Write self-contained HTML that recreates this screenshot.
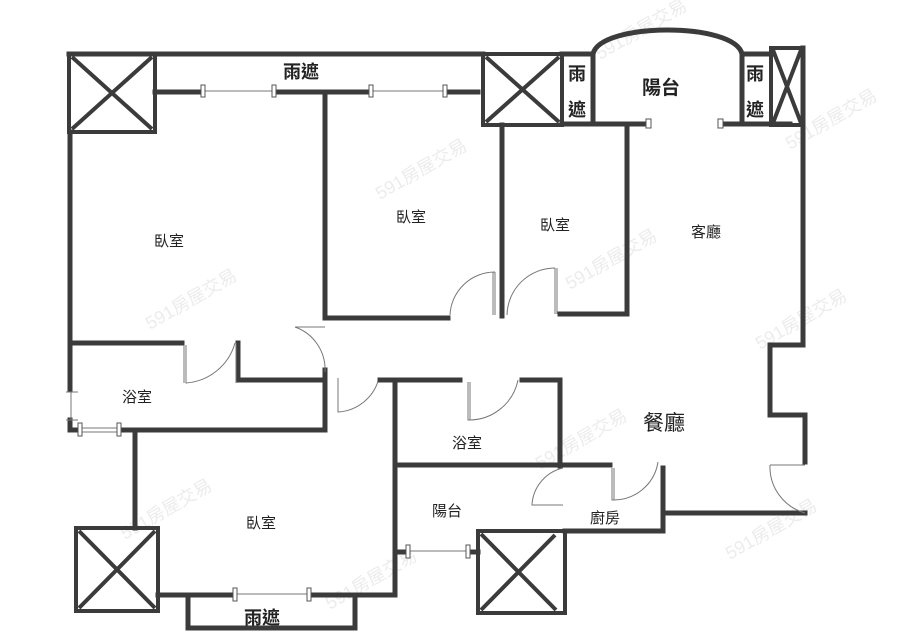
<!DOCTYPE html>
<html><head><meta charset="utf-8"><style>
html,body{margin:0;padding:0;background:#fff;width:900px;height:644px;overflow:hidden}
svg{display:block}
text{font-family:"Liberation Sans","Noto Sans CJK TC",sans-serif;fill:#222}
.w{stroke:#3b3b3b;stroke-width:5;fill:none;stroke-linecap:square}
.x{stroke:#3b3b3b;stroke-width:4;fill:none}
.t{stroke:#777;stroke-width:1;fill:none}
.wm text{fill:#ececec;font-size:18px;font-weight:normal}
</style></head><body>
<svg width="900" height="644" viewBox="0 0 900 644">
<g class="wm">
<text transform="translate(150,330) rotate(-30)">591房屋交易</text>
<text transform="translate(380,200) rotate(-30)">591房屋交易</text>
<text transform="translate(570,290) rotate(-30)">591房屋交易</text>
<text transform="translate(760,350) rotate(-30)">591房屋交易</text>
<text transform="translate(790,150) rotate(-30)">591房屋交易</text>
<text transform="translate(600,60) rotate(-30)">591房屋交易</text>
<text transform="translate(330,610) rotate(-30)">591房屋交易</text>
<text transform="translate(730,560) rotate(-30)">591房屋交易</text>
<text transform="translate(125,540) rotate(-30)">591房屋交易</text>
<text transform="translate(540,470) rotate(-30)">591房屋交易</text>
</g>
<rect class="x" x="69" y="54" width="86" height="78"/>
<path class="x" d="M72 57L152 129M152 57L72 129"/>
<rect class="x" x="483" y="54" width="79" height="71"/>
<path class="x" d="M486 57L559 122M559 57L486 122"/>
<rect class="x" x="771" y="48" width="32" height="77"/>
<path class="x" d="M773 50L801 123M801 50L773 123"/>
<path class="w" d="M69 54H483M562 54H593V124M742 124V54H771"/>
<path class="w" d="M593 54C600 22 735 22 742 54"/>
<path class="w" d="M562 124H645M725 124H790"/>
<rect x="646" y="119" width="5" height="9" fill="#fff" stroke="#555"/>
<rect x="718" y="119" width="5" height="9" fill="#fff" stroke="#555"/>
<path class="w" d="M155 92H200M275 92H370M445 92H478"/>
<path class="t" d="M203 91H273M373 91H443"/>
<rect x="201" y="85" width="4" height="12" fill="#fff" stroke="#555"/>
<rect x="272" y="85" width="4" height="12" fill="#fff" stroke="#555"/>
<rect x="369" y="85" width="4" height="12" fill="#fff" stroke="#555"/>
<rect x="443" y="85" width="4" height="12" fill="#fff" stroke="#555"/>
<path class="w" d="M70 132V390M70 420V430H75"/>
<path class="t" d="M66 392H78M66 420H78M71 392V420"/>
<path class="w" d="M325 92V318H448"/>
<path class="w" d="M502 125V316"/>
<path class="w" d="M560 314H627V124"/>
<path class="w" d="M803 48V345H770V415H805V462"/>
<path class="w" d="M668 513H805"/>
<path class="t" d="M450 315A45 45 0 0 1 495 272M495 272V315M493 272V315"/>
<path class="t" d="M507 315A48 48 0 0 1 555 268M555 268V314M557 268V314"/>
<path class="w" d="M70 343H182M238 343V380H325M325 370V430H120"/>
<path class="t" d="M186 345V383A55 55 0 0 0 235 343M184 345V383M236 343V383"/>
<path class="t" d="M80 428H118M80 432H118"/>
<rect x="78" y="423" width="4" height="13" fill="#fff" stroke="#555"/>
<rect x="117" y="423" width="4" height="13" fill="#fff" stroke="#555"/>
<path class="t" d="M295 327A45 45 0 0 1 325 372M295 327H325"/>
<path class="t" d="M338 378V412A45 45 0 0 0 379 378"/>
<path class="w" d="M135 430V528"/>
<rect class="x" x="76" y="528" width="82" height="83"/>
<path class="x" d="M79 531L155 608M155 531L79 608"/>
<path class="w" d="M158 595H232M312 595H395V380H380M395 380H460M522 380H560V466"/>
<path class="t" d="M236 594H308"/>
<rect x="233" y="588" width="4" height="13" fill="#fff" stroke="#555"/>
<rect x="307" y="588" width="4" height="13" fill="#fff" stroke="#555"/>
<path class="w" d="M188 595V628H355V595"/>
<path class="t" d="M468 382V420A50 50 0 0 0 518 380M470 382V420"/>
<path class="w" d="M395 465H610"/>
<path class="w" d="M395 552H405M470 552H478"/>
<path class="t" d="M408 551H468"/>
<rect x="406" y="545" width="4" height="13" fill="#fff" stroke="#555"/>
<rect x="466" y="545" width="4" height="13" fill="#fff" stroke="#555"/>
<rect class="x" x="478" y="531" width="87" height="82"/>
<path class="x" d="M481 534L556 610M555 535L481 610"/>
<path class="t" d="M563 468A40 40 0 0 0 532 505H563"/>
<path class="w" d="M565 531H663V468"/>
<path class="t" d="M612 468V500A45 45 0 0 0 658 462M614 468V500"/>
<path class="t" d="M770 465H805M770 465A48 48 0 0 0 805 513"/>
<text x="283" y="78" font-size="18" font-weight="bold">雨遮</text>
<text x="568" y="80" font-size="18" font-weight="bold">雨</text>
<text x="568" y="116" font-size="18" font-weight="bold">遮</text>
<text x="746" y="80" font-size="18" font-weight="bold">雨</text>
<text x="746" y="116" font-size="18" font-weight="bold">遮</text>
<text x="642" y="94" font-size="19" font-weight="bold">陽台</text>
<text x="154" y="246" font-size="15">臥室</text>
<text x="396" y="222" font-size="15">臥室</text>
<text x="540" y="230" font-size="15">臥室</text>
<text x="691" y="237" font-size="15">客廳</text>
<text x="122" y="402" font-size="15">浴室</text>
<text x="452" y="448" font-size="15">浴室</text>
<text x="643" y="430" font-size="21">餐廳</text>
<text x="246" y="528" font-size="15">臥室</text>
<text x="432" y="516" font-size="15">陽台</text>
<text x="590" y="523" font-size="15">廚房</text>
<text x="244" y="624" font-size="18" font-weight="bold">雨遮</text>
</svg>
</body></html>
